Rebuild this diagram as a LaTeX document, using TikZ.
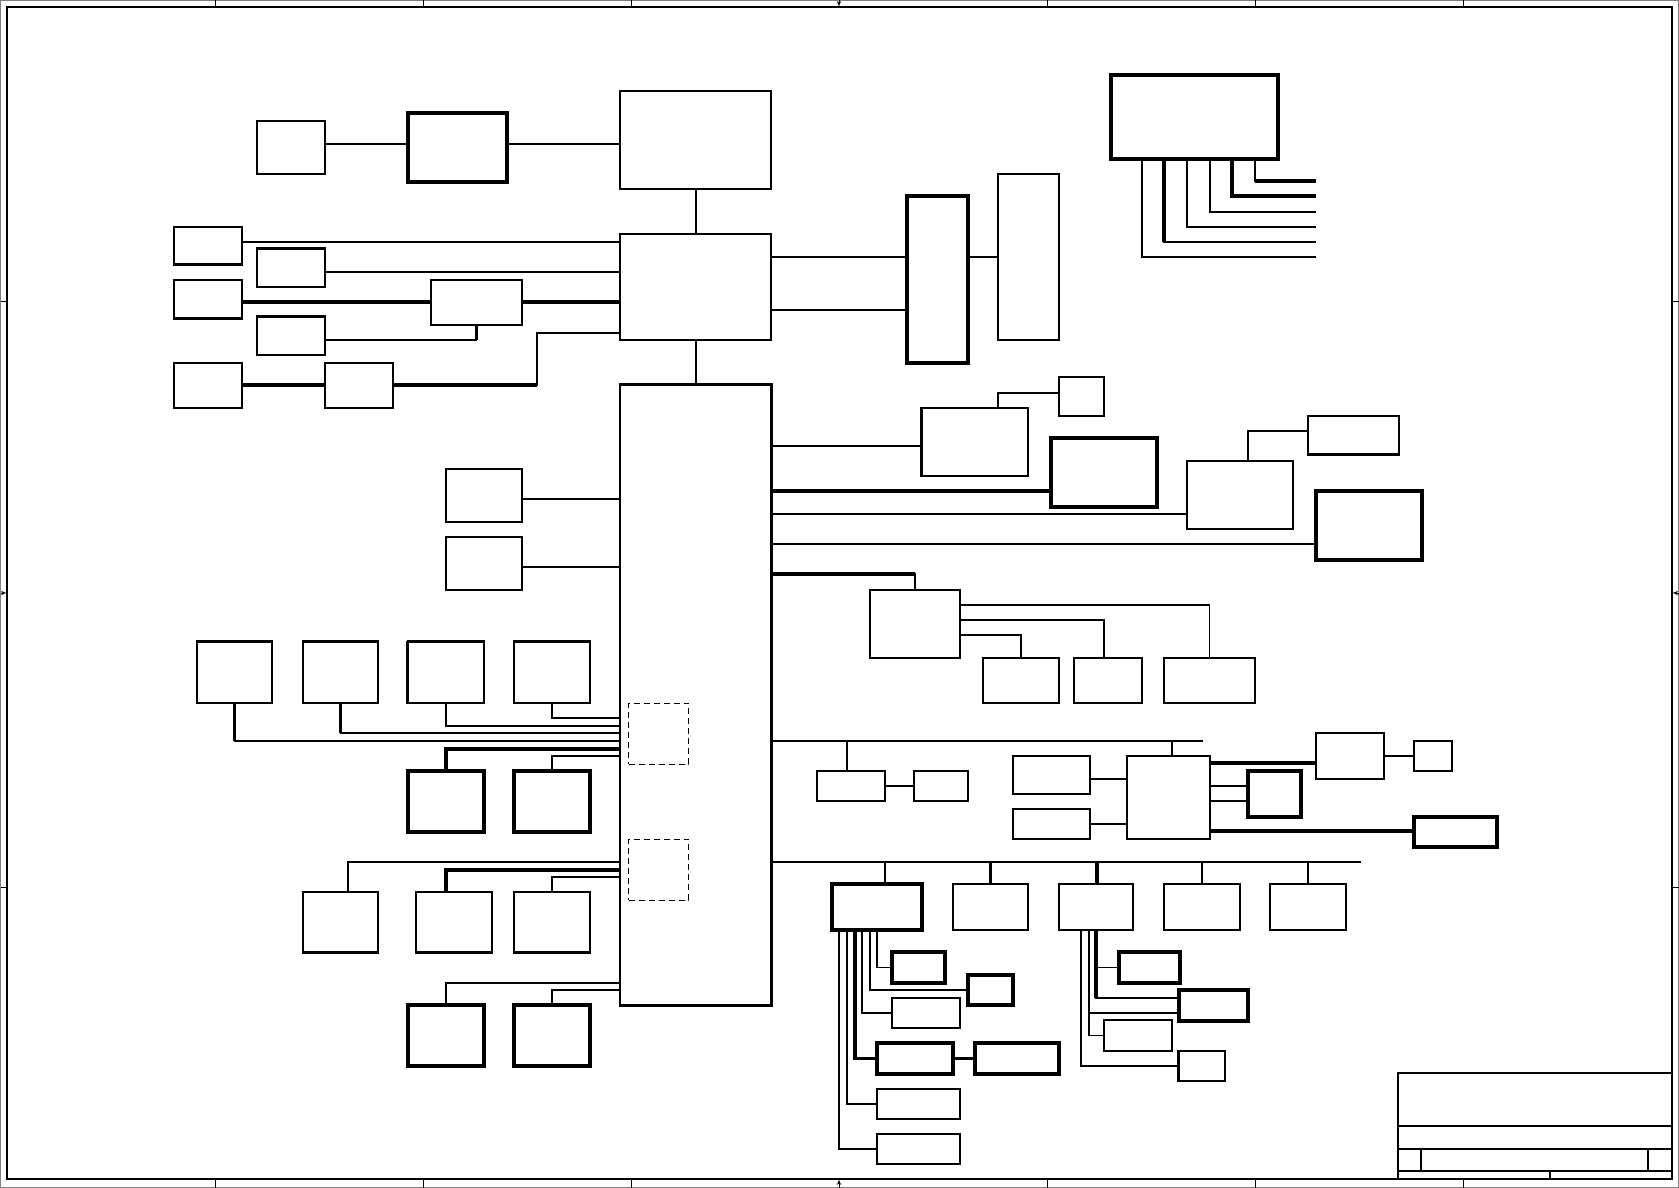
\documentclass[tikz,border=0pt]{standalone}
\usepackage{tikz}
\usetikzlibrary{arrows, positioning, fit, calc}

\begin{document}
\begin{tikzpicture}[x=1pt, y=-1pt, >=latex', line width=1.6pt]
        \tikzstyle{blk} = [draw, rectangle, inner sep=0pt, line width=1.6pt]
        \tikzstyle{blkw} = [draw, rectangle, inner sep=0pt, line width=3.3pt]
        \tikzstyle{ghost} = [draw, rectangle, inner sep=0pt, line width=1pt, dash pattern=on 6pt off 4pt]
        \tikzstyle{wide} = [line width=3.3pt]
        \tikzstyle{tick} = [line width=1pt]

        \useasboundingbox (0,0) rectangle (1679,1188);

        % Chenar si repere
        \draw[gray, line width=1pt] (0.5,0.5) rectangle (1678.5,1187.5);
        \draw (7,7) rectangle (1672,1179);
        \foreach \x in {215,423,631,1047,1255,1463} {
            \draw[tick] (\x,0.5) -- (\x,7);
            \draw[tick] (\x,1179) -- (\x,1187.5);
        }
        \foreach \y in {301,887} {
            \draw[tick] (0.5,\y) -- (7,\y);
            \draw[tick] (1672,\y) -- (1678.5,\y);
        }
        \draw[tick, ->] (839,0.5) -- (839,7);
        \draw[tick, ->] (839,1187.5) -- (839,1179);
        \draw[tick, ->] (0.5,593) -- (7,593);
        \draw[tick, ->] (1678.5,593) -- (1672,593);

        % Cartus
        \draw (1398,1179) -- (1398,1073) -- (1672,1073);
        \draw (1398,1126) -- (1672,1126);
        \draw (1398,1149) -- (1672,1149);
        \draw (1398,1171) -- (1672,1171);
        \draw (1421,1149) -- (1421,1171);
        \draw (1648,1149) -- (1648,1171);
        \draw (1550,1171) -- (1550,1179);

        % Blocuri de sus
        \node [blk, fit={(257,121) (325,174)}] (a1) {};
        \node [blkw, fit={(408,113) (507,182)}] (a2) {};
        \node [blk, fit={(620,91) (771,189)}] (a3) {};
        \node [blk, fit={(620,234) (771,340)}] (hub) {};
        \node [blk, fit={(620,385) (771,1005)}] (core) {};
        \draw[wide] (core.south west) -- (core.south east) -- (core.north east) -- (core.north west);

        \draw (a1.east |- 0,144) -- (a2.west |- 0,144);
        \draw (a2.east |- 0,144) -- (a3.west |- 0,144);
        \draw (a3.south -| 696,0) -- (hub.north -| 696,0);
        \draw (hub.south -| 696,0) -- (core.north -| 696,0);

        % Blocuri la stanga
        \node [blk, fit={(174,227) (242,264)}] (l1) {};
        \node [blk, fit={(257,249) (325,287)}] (l2) {};
        \node [blk, fit={(174,280) (242,318)}] (l3) {};
        \node [blk, fit={(431,280) (522,325)}] (mux) {};
        \node [blk, fit={(257,317) (325,355)}] (l4) {};
        \node [blk, fit={(174,363) (242,408)}] (l5) {};
        \node [blk, fit={(325,363) (393,408)}] (l6) {};
        \draw[wide] (l1.south west) -- (l1.south east);
        \draw[wide] (l2.north west) -- (l2.north east);
        \draw[wide] (l3.south west) -- (l3.south east);
        \draw[wide] (l4.north west) -- (l4.north east);

        \draw (l1.east |- 0,242) -- (hub.west |- 0,242);
        \draw (l2.east |- 0,272) -- (hub.west |- 0,272);
        \draw[wide] (l3.east |- 0,302) -- (mux.west |- 0,302);
        \draw[wide] (mux.east |- 0,302) -- (hub.west |- 0,302);
        \draw (l4.east |- 0,340) -| (mux.south);
        \draw[wide] (mux.south) -- (mux.south |- 0,340);
        \draw[wide] (l5.east |- 0,385) -- (l6.west |- 0,385);
        \draw (hub.west |- 0,333) -| (537,385) -- (l6.east |- 0,385);
        \draw[wide] (l6.east |- 0,385) -- (537,385);

        % Blocuri la dreapta sus
        \node [blkw, fit={(907,196) (968,363)}] (r1) {};
        \node [blk, fit={(998,174) (1059,340)}] (r2) {};
        \node [blkw, fit={(1111,75) (1278,159)}] (bus) {};
        \coordinate (busend) at (1316,0);

        \draw (hub.east |- 0,257) -- (r1.west |- 0,257);
        \draw (hub.east |- 0,310) -- (r1.west |- 0,310);
        \draw (r1.east |- 0,257) -- (r2.west |- 0,257);
        \foreach \x/\y in {1142/257, 1164/242, 1187/227, 1210/212, 1255/181}
            \draw (bus.south -| \x,0) |- (busend |- 0,\y);
        \draw[wide] (bus.south -| 1164,0) -- (1164,242);
        \draw[wide] (bus.south -| 1232,0) |- (busend |- 0,196);
        \draw[wide] (1255,181) -- (busend |- 0,181);

        % Periferice dreapta
        \node [blk, fit={(1059,377) (1104,416)}] (c0) {};
        \node [blk, fit={(922,408) (1028,476)}] (c1) {};
        \node [blkw, fit={(1051,438) (1157,507)}] (c2) {};
        \node [blk, fit={(1187,461) (1293,529)}] (c3) {};
        \node [blk, fit={(1308,416) (1399,454)}] (c4) {};
        \node [blkw, fit={(1316,491) (1422,560)}] (c5) {};
        \draw[wide] (c1.south west) -- (c1.north west);
        \draw[wide] (c4.south west) -- (c4.south east);

        \draw (core.east |- 0,446) -- (c1.west |- 0,446);
        \draw (c1.north -| 998,0) |- (c0.west |- 0,393);
        \draw[wide] (core.east |- 0,491) -- (c2.west |- 0,491);
        \draw (core.east |- 0,514) -- (c3.west |- 0,514);
        \draw (c3.north -| 1248,0) |- (c4.west |- 0,431);
        \draw (core.east |- 0,544) -- (c5.west |- 0,544);

        \node [blk, fit={(870,590) (960,658)}] (d0) {};
        \node [blk, fit={(983,658) (1059,703)}] (d1) {};
        \node [blk, fit={(1074,658) (1142,703)}] (d2) {};
        \node [blk, fit={(1164,658) (1255,703)}] (d3) {};

        \draw (core.east |- 0,574) -| (d0.north);
        \draw[wide] (core.east |- 0,574) -- (d0.north |- 0,574);
        \draw (d0.east |- 0,635) -| (d1.north);
        \draw (d0.east |- 0,620) -| (d2.north -| 1104,0);
        \draw (d0.east |- 0,605) -| (d3.north);

        % Blocuri la stanga jos
        \node [blk, fit={(446,469) (522,522)}] (e1) {};
        \node [blk, fit={(446,537) (522,590)}] (e2) {};
        \draw (e1.east |- 0,499) -- (core.west |- 0,499);
        \draw (e2.east |- 0,567) -- (core.west |- 0,567);

        \node [blk, fit={(197,642) (272,703)}] (f1) {};
        \node [blk, fit={(303,642) (378,703)}] (f2) {};
        \node [blk, fit={(408,642) (484,703)}] (f3) {};
        \node [blk, fit={(514,642) (590,703)}] (f4) {};
        \foreach \n in {f1,f2,f3,f4}
            \draw[wide] (\n.north west) -- (\n.north east);
        \draw[wide] (f3.north west) -- (f3.south west);
        \node [blkw, fit={(408,771) (484,832)}] (g1) {};
        \node [blkw, fit={(514,771) (590,832)}] (g2) {};
        \node [ghost, fit={(628.5,703) (688.5,764)}] (x1) {};

        \draw (f4.south) |- (core.west |- 0,718);
        \draw (f3.south) |- (core.west |- 0,726);
        \draw (f2.south) |- (core.west |- 0,733);
        \draw[wide] (f2.south) -- (f2.south |- 0,733);
        \draw (f1.south) |- (core.west |- 0,741);
        \draw[wide] (f1.south) -- (f1.south |- 0,741);
        \draw[wide] (core.west |- 0,749) -| (g1.north);
        \draw (core.west |- 0,756) -| (g2.north);

        \node [blk, fit={(303,892) (378,952)}] (h1) {};
        \node [blk, fit={(416,892) (492,952)}] (h2) {};
        \node [blk, fit={(514,892) (590,952)}] (h3) {};
        \foreach \n in {h1,h2,h3}
            \draw[wide] (\n.south west) -- (\n.south east);
        \node [blkw, fit={(408,1005) (484,1066)}] (j1) {};
        \node [blkw, fit={(514,1005) (590,1066)}] (j2) {};
        \node [ghost, fit={(628.5,839) (688.5,900)}] (x2) {};

        \draw (core.west |- 0,862) -| (h1.north -| 348,0);
        \draw[wide] (core.west |- 0,870) -| (h2.north -| 446,0);
        \draw (core.west |- 0,877) -| (h3.north);
        \draw (core.west |- 0,983) -| (j1.north);
        \draw (core.west |- 0,990) -| (j2.north);

        % Magistrala din mijloc
        \coordinate (kend) at (1203,741);
        \node [blk, fit={(817,771) (885,801)}] (k1) {};
        \node [blk, fit={(914,771) (968,801)}] (k2) {};
        \node [blk, fit={(1013,756) (1090,794)}] (k3) {};
        \node [blk, fit={(1013,809) (1090,839)}] (k4) {};
        \node [blk, fit={(1127,756) (1210,839)}] (k5) {};
        \node [blkw, fit={(1248,771) (1301,817)}] (k6) {};
        \node [blk, fit={(1316,733) (1384,779)}] (k7) {};
        \node [blk, fit={(1414,741) (1452,771)}] (k8) {};
        \node [blkw, fit={(1414,817) (1497,847)}] (k9) {};

        \draw (core.east |- kend) -- (kend);
        \draw (k1.north -| 847,0) -- (kend -| 847,0);
        \draw (k5.north -| 1172,0) -- (kend -| 1172,0);
        \draw (k1.east) -- (k2.west);
        \draw (k3.east |- 0,779) -- (k5.west |- 0,779);
        \draw (k4.east |- 0,824) -- (k5.west |- 0,824);
        \draw[wide] (k5.east |- 0,763) -- (k7.west |- 0,763);
        \draw (k5.east |- 0,786) -- (k6.west |- 0,786);
        \draw (k5.east |- 0,801) -- (k6.west |- 0,801);
        \draw (k7.east |- 0,756) -- (k8.west |- 0,756);
        \draw[wide] (k5.east |- 0,831) -- (k9.west |- 0,831);

        % Magistrala de jos
        \coordinate (lend) at (1361,862);
        \node [blkw, fit={(832,884) (922,930)}] (s1) {};
        \node [blk, fit={(953,884) (1028,930)}] (s2) {};
        \node [blk, fit={(1059,884) (1133,930)}] (s3) {};
        \node [blk, fit={(1164,884) (1240,930)}] (s4) {};
        \node [blk, fit={(1270,884) (1346,930)}] (s5) {};

        \draw (core.east |- lend) -- (lend);
        \draw (s1.north -| 885,0) -- (lend -| 885,0);
        \draw[wide] (s2.north) -- (s2.north |- lend);
        \draw[wide] (s3.north -| 1097,0) -- (lend -| 1097,0);
        \draw (s4.north) -- (s4.north |- lend);
        \draw (s5.north) -- (s5.north |- lend);

        \node [blkw, fit={(892,952) (945,983)}] (p1) {};
        \node [blkw, fit={(968,975) (1013,1005)}] (p2) {};
        \node [blk, fit={(892,998) (960,1028)}] (p3) {};
        \node [blkw, fit={(877,1043) (953,1074)}] (p4) {};
        \node [blkw, fit={(975,1043) (1059,1074)}] (p5) {};
        \node [blk, fit={(877,1089) (960,1119)}] (p6) {};
        \node [blk, fit={(877,1134) (960,1164)}] (p7) {};

        \draw (s1.south -| 877,0) |- (p1.west);
        \draw (s1.south -| 870,0) |- (p2.west);
        \draw (s1.south -| 862,0) |- (p3.west);
        \draw[wide] (s1.south -| 855,0) |- (p4.west);
        \draw[wide] (p4.east) -- (p5.west);
        \draw (s1.south -| 847,0) |- (p6.west);
        \draw (s1.south -| 839,0) |- (p7.west);

        \node [blkw, fit={(1119,952) (1180,983)}] (q1) {};
        \node [blkw, fit={(1179,990) (1248,1021)}] (q2) {};
        \node [blk, fit={(1104,1020) (1172,1051)}] (q3) {};
        \node [blk, fit={(1179,1051) (1225,1081)}] (q4) {};
        \draw[wide] (q4.south west) -- (q4.north west);

        \draw (s3.south -| 1096,0) |- (q1.west);
        \draw (s3.south -| 1096,0) |- (q2.west |- 0,998);
        \draw[wide] (s3.south -| 1096,0) -- (1096,998);
        \draw (s3.south -| 1089,0) |- (q2.west |- 0,1013);
        \draw (s3.south -| 1089,0) |- (q3.west);
        \draw (s3.south -| 1081,0) |- (q4.west);

    \end{tikzpicture}
\end{document}
